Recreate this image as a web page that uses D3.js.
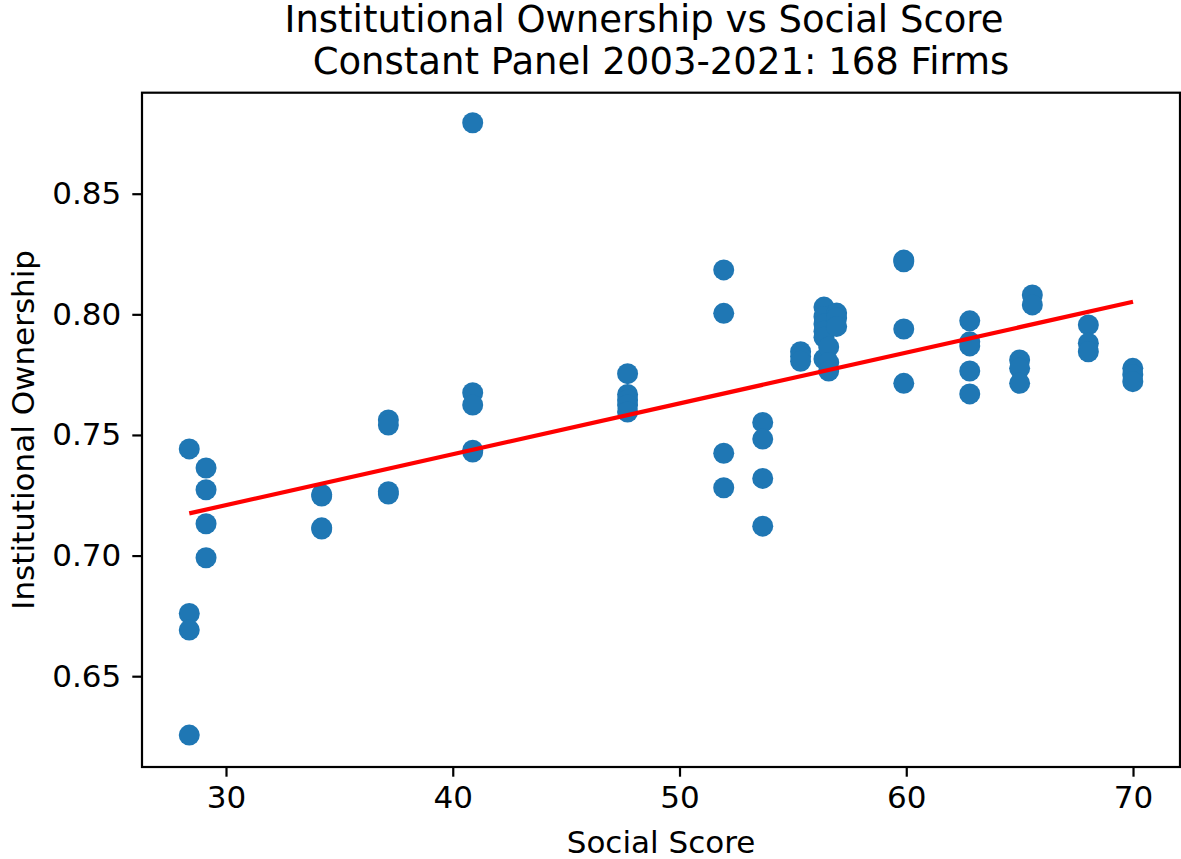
<!DOCTYPE html>
<html>
<head>
<meta charset="utf-8">
<script src="https://cdn.jsdelivr.net/npm/d3@7"></script>
<style>
  body { margin: 0; background: #fff; }
  svg text { font-family: "DejaVu Sans", sans-serif; fill: #000; }
</style>
</head>
<body>
<div id="chart"></div>
<script>
// social score per firm group (x) and institutional ownership (y)
var socialScore = [
    28.38, 28.38, 28.38, 28.38,
    29.12, 29.12, 29.12, 29.12,
    34.22, 34.22, 34.22, 34.22,
    37.16, 37.16, 37.16, 37.16,
    40.88, 40.88, 40.88, 40.88, 40.88,
    47.71, 47.71, 47.71, 47.71, 47.71,
    51.95, 51.95, 51.95, 51.95,
    53.67, 53.67, 53.67, 53.67,
    55.34, 55.34, 55.34,
    56.37, 56.37, 56.37, 56.37, 56.37, 56.37,
    56.58, 56.58, 56.58,
    56.93, 56.93, 56.93,
    59.89, 59.89, 59.89, 59.89,
    62.80, 62.80, 62.80, 62.80, 62.80,
    65.00, 65.00, 65.00,
    65.56, 65.56,
    68.03, 68.03, 68.03,
    69.99, 69.99, 69.99
];
var instOwnership = [
    0.7442, 0.6760, 0.6691, 0.6256,
    0.7363, 0.7273, 0.7132, 0.6991,
    0.7253, 0.7247, 0.7115, 0.7110,
    0.7562, 0.7541, 0.7265, 0.7255,
    0.8794, 0.7675, 0.7624, 0.7437, 0.7429,
    0.7754, 0.7668, 0.7645, 0.7624, 0.7595,
    0.8184, 0.8004, 0.7424, 0.7281,
    0.7552, 0.7483, 0.7320, 0.7122,
    0.7845, 0.7825, 0.7805,
    0.8030, 0.7990, 0.7960, 0.7930, 0.7905, 0.7815,
    0.7865, 0.7800, 0.7765,
    0.8005, 0.7985, 0.7950,
    0.8225, 0.8218, 0.7939, 0.7714,
    0.7973, 0.7886, 0.7869, 0.7765, 0.7670,
    0.7811, 0.7776, 0.7714,
    0.8080, 0.8039,
    0.7956, 0.7880, 0.7845,
    0.7776, 0.7750, 0.7721
];

// fitted regression line endpoints
var fitX = [28.38, 70.0];
var fitY = [0.7175, 0.8052];

var xTicks = [30, 40, 50, 60, 70];
var yTicks = [0.65, 0.70, 0.75, 0.80, 0.85];

var titleLines = ["Institutional Ownership vs Social Score", "Constant Panel 2003-2021: 168 Firms"];

var W = 1181, H = 859;
var pLeft = 142, pRight = 1180, pTop = 92.7, pBottom = 767;

var svg = d3.select("#chart").append("svg")
    .attr("width", W)
    .attr("height", H);

var x = d3.scaleLinear().domain([26.2955, 72.072]).range([pLeft, pRight]);
var y = d3.scaleLinear().domain([0.61236, 0.89187]).range([pBottom, pTop]);

var points = socialScore.map(function(d, i) { return {x: d, y: instOwnership[i]}; });

svg.append("g")
    .selectAll("circle")
    .data(points)
    .enter().append("circle")
    .attr("cx", function(d) { return x(d.x); })
    .attr("cy", function(d) { return y(d.y); })
    .attr("r", 10.5)
    .style("fill", "#1f77b4");

var line = d3.line()
    .x(function(d) { return x(d[0]); })
    .y(function(d) { return y(d[1]); });

svg.append("path")
    .datum(fitX.map(function(d, i) { return [d, fitY[i]]; }))
    .attr("d", line)
    .style("fill", "none")
    .style("stroke", "red")
    .style("stroke-width", 4.2);

// axes
var xAxis = d3.axisBottom(x).tickValues(xTicks).tickSize(9.7).tickPadding(9).tickFormat(d3.format("d"));
var yAxis = d3.axisLeft(y).tickValues(yTicks).tickSize(9.7).tickPadding(11).tickFormat(d3.format(".2f"));

var gx = svg.append("g").attr("transform", "translate(0," + pBottom + ")").call(xAxis);
var gy = svg.append("g").attr("transform", "translate(" + pLeft + ",0)").call(yAxis);

[gx, gy].forEach(function(g) {
    g.select(".domain").remove();
    g.selectAll(".tick line").style("stroke", "#000").style("stroke-width", 2.2);
    g.selectAll(".tick text").style("font-size", "31px").style("font-family", "DejaVu Sans");
});

// frame
svg.append("rect")
    .attr("x", pLeft)
    .attr("y", pTop)
    .attr("width", pRight - pLeft)
    .attr("height", pBottom - pTop)
    .style("fill", "none")
    .style("stroke", "#000")
    .style("stroke-width", 2.2);

// labels
svg.append("text")
    .attr("x", (pLeft + pRight) / 2)
    .attr("y", 853)
    .attr("text-anchor", "middle")
    .style("font-size", "31px")
    .text("Social Score");

svg.append("text")
    .attr("transform", "translate(34," + ((pTop + pBottom) / 2) + ") rotate(-90)")
    .attr("text-anchor", "middle")
    .style("font-size", "31px")
    .text("Institutional Ownership");

svg.append("text")
    .attr("x", 644)
    .attr("y", 32)
    .attr("text-anchor", "middle")
    .style("font-size", "37px")
    .text(titleLines[0]);

svg.append("text")
    .attr("x", 661)
    .attr("y", 74)
    .attr("text-anchor", "middle")
    .style("font-size", "37px")
    .text(titleLines[1]);
</script>
</body>
</html>
